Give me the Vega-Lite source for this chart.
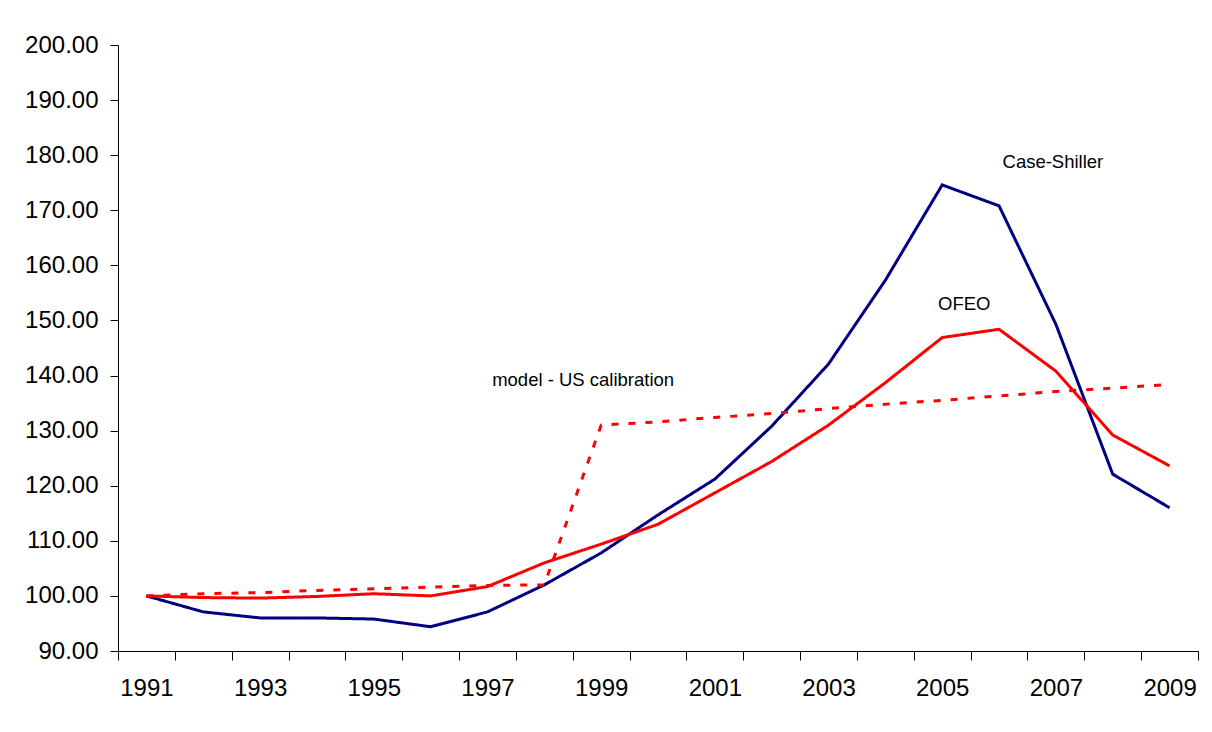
{
  "$schema": "https://vega.github.io/schema/vega-lite/v6.json",
  "width": 1080,
  "height": 606,
  "autosize": {"type": "none"},
  "padding": {"left": 118, "top": 45, "right": 14, "bottom": 81},
  "background": "white",
  "config": {
    "view": {"stroke": null},
    "font": "Liberation Sans",
    "axis": {"grid": false, "domainColor": "#000000", "tickColor": "#000000", "labelColor": "#000000", "labelFont": "Liberation Sans", "labelFontSize": 24, "domainWidth": 1, "tickWidth": 1}
  },
  "datasets": {
    "series": [
      {"year": 1991, "series": "Case-Shiller", "value": 100.0},
      {"year": 1992, "series": "Case-Shiller", "value": 97.1},
      {"year": 1993, "series": "Case-Shiller", "value": 96.0},
      {"year": 1994, "series": "Case-Shiller", "value": 96.0},
      {"year": 1995, "series": "Case-Shiller", "value": 95.8},
      {"year": 1996, "series": "Case-Shiller", "value": 94.4},
      {"year": 1997, "series": "Case-Shiller", "value": 97.1},
      {"year": 1998, "series": "Case-Shiller", "value": 102.0},
      {"year": 1999, "series": "Case-Shiller", "value": 107.8},
      {"year": 2000, "series": "Case-Shiller", "value": 114.7},
      {"year": 2001, "series": "Case-Shiller", "value": 121.2},
      {"year": 2002, "series": "Case-Shiller", "value": 130.8},
      {"year": 2003, "series": "Case-Shiller", "value": 142.1},
      {"year": 2004, "series": "Case-Shiller", "value": 157.3},
      {"year": 2005, "series": "Case-Shiller", "value": 174.6},
      {"year": 2006, "series": "Case-Shiller", "value": 170.8},
      {"year": 2007, "series": "Case-Shiller", "value": 149.3},
      {"year": 2008, "series": "Case-Shiller", "value": 122.1},
      {"year": 2009, "series": "Case-Shiller", "value": 116.0},
      {"year": 1991, "series": "OFEO", "value": 100.0},
      {"year": 1992, "series": "OFEO", "value": 99.7},
      {"year": 1993, "series": "OFEO", "value": 99.6},
      {"year": 1994, "series": "OFEO", "value": 99.9},
      {"year": 1995, "series": "OFEO", "value": 100.4},
      {"year": 1996, "series": "OFEO", "value": 100.0},
      {"year": 1997, "series": "OFEO", "value": 101.7},
      {"year": 1998, "series": "OFEO", "value": 106.0},
      {"year": 1999, "series": "OFEO", "value": 109.4},
      {"year": 2000, "series": "OFEO", "value": 113.0},
      {"year": 2001, "series": "OFEO", "value": 118.7},
      {"year": 2002, "series": "OFEO", "value": 124.4},
      {"year": 2003, "series": "OFEO", "value": 131.0},
      {"year": 2004, "series": "OFEO", "value": 138.7},
      {"year": 2005, "series": "OFEO", "value": 146.9},
      {"year": 2006, "series": "OFEO", "value": 148.4},
      {"year": 2007, "series": "OFEO", "value": 140.8},
      {"year": 2008, "series": "OFEO", "value": 129.2},
      {"year": 2009, "series": "OFEO", "value": 123.6},
      {"year": 1991, "series": "model - US calibration", "value": 100.0},
      {"year": 1992, "series": "model - US calibration", "value": 100.4},
      {"year": 1993, "series": "model - US calibration", "value": 100.6},
      {"year": 1994, "series": "model - US calibration", "value": 101.0},
      {"year": 1995, "series": "model - US calibration", "value": 101.3},
      {"year": 1996, "series": "model - US calibration", "value": 101.6},
      {"year": 1997, "series": "model - US calibration", "value": 101.9},
      {"year": 1998, "series": "model - US calibration", "value": 102.0},
      {"year": 1999, "series": "model - US calibration", "value": 131.0},
      {"year": 2000, "series": "model - US calibration", "value": 131.6},
      {"year": 2001, "series": "model - US calibration", "value": 132.4},
      {"year": 2002, "series": "model - US calibration", "value": 133.1},
      {"year": 2003, "series": "model - US calibration", "value": 134.0},
      {"year": 2004, "series": "model - US calibration", "value": 134.8},
      {"year": 2005, "series": "model - US calibration", "value": 135.5},
      {"year": 2006, "series": "model - US calibration", "value": 136.3},
      {"year": 2007, "series": "model - US calibration", "value": 137.1},
      {"year": 2008, "series": "model - US calibration", "value": 137.7},
      {"year": 2009, "series": "model - US calibration", "value": 138.4}
    ],
    "labels": [
      {"label": "Case-Shiller", "year": 2007, "value": 178.7},
      {"label": "OFEO", "year": 2005, "value": 153.0},
      {"label": "model - US calibration", "year": 1999, "value": 139.2}
    ]
  },
  "layer": [
    {
      "data": {"name": "series"},
      "mark": {"type": "line", "strokeWidth": 3, "strokeCap": "butt"},
      "encoding": {
        "x": {
          "field": "year", "type": "ordinal",
          "scale": {"paddingInner": 0, "paddingOuter": 0},
          "axis": {"title": null, "labelAngle": 0, "tickBand": "extent", "tickSize": 9, "labelPadding": 16, "labelExpr": "datum.value % 2 == 1 ? datum.label : ''"}
        },
        "y": {
          "field": "value", "type": "quantitative",
          "scale": {"domain": [90, 200], "nice": false, "zero": false},
          "axis": {"title": null, "values": [90, 100, 110, 120, 130, 140, 150, 160, 170, 180, 190, 200], "format": ".2f", "tickSize": 8, "labelPadding": 12}
        },
        "color": {
          "field": "series", "type": "nominal",
          "scale": {"domain": ["Case-Shiller", "OFEO", "model - US calibration"], "range": ["#000080", "#FF0000", "#FF0000"]},
          "legend": null
        },
        "strokeDash": {
          "field": "series", "type": "nominal",
          "scale": {"domain": ["Case-Shiller", "OFEO", "model - US calibration"], "range": [[1, 0], [1, 0], [7, 10]]},
          "legend": null
        }
      }
    },
    {
      "data": {"name": "labels"},
      "transform": [{"filter": "datum.label == 'Case-Shiller'"}],
      "mark": {"type": "text", "fontSize": 18.5, "font": "Liberation Sans", "color": "#000000", "dx": -3},
      "encoding": {
        "x": {"field": "year", "type": "ordinal"},
        "y": {"field": "value", "type": "quantitative"},
        "text": {"field": "label"}
      }
    },
    {
      "data": {"name": "labels"},
      "transform": [{"filter": "datum.label == 'OFEO'"}],
      "mark": {"type": "text", "fontSize": 18.5, "font": "Liberation Sans", "color": "#000000", "dx": 22},
      "encoding": {
        "x": {"field": "year", "type": "ordinal"},
        "y": {"field": "value", "type": "quantitative"},
        "text": {"field": "label"}
      }
    },
    {
      "data": {"name": "labels"},
      "transform": [{"filter": "datum.label == 'model - US calibration'"}],
      "mark": {"type": "text", "fontSize": 18.5, "font": "Liberation Sans", "color": "#000000", "dx": -18},
      "encoding": {
        "x": {"field": "year", "type": "ordinal"},
        "y": {"field": "value", "type": "quantitative"},
        "text": {"field": "label"}
      }
    }
  ]
}
